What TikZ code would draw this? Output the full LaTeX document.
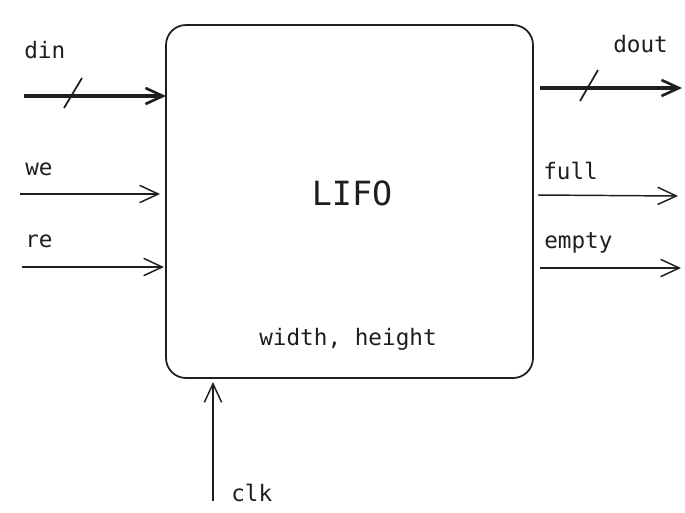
\documentclass[tikz,border=0pt]{standalone}
\usepackage{fontspec}
\setmonofont{DejaVu Sans Mono}
\usetikzlibrary{arrows.meta}
\definecolor{ink}{HTML}{1E1E1E}
\tikzset{
  sig/.style={draw=ink, line width=1.1pt, -{Straight Barb[length=14pt,width=13pt,line width=1.1pt]}},
  bus/.style={draw=ink, line width=2.3pt, -{Straight Barb[length=13pt,width=12pt,line width=2pt]}},
  slash/.style={draw=ink, line width=1.3pt},
  lbl/.style={font=\ttfamily\fontsize{17}{20}\selectfont, text=ink, inner sep=0pt},
  blk/.style={draw=ink, line width=1.3pt, rounded corners=15pt, inner sep=0pt,
    minimum width=275.25pt, minimum height=264.75pt}
}
\begin{document}
\begin{tikzpicture}[x=0.75pt,y=-0.75pt]
\useasboundingbox (0,0) rectangle (685,512);
\node[blk] (lifo) at (349.5,201.5) {};
\node[lbl, font=\ttfamily\fontsize{25}{30}\selectfont] (title) at (352,193) {LIFO};
\node[lbl] (param) at (348,339) {width, height};
% inputs
\coordinate (dinS) at (24,96); \coordinate (dinE) at (166,96);
\draw[bus] (dinS) -- (dinE);
\coordinate (dinA) at (64,108); \coordinate (dinB) at (82,78);
\draw[slash] (dinA) -- (dinB);
\node[lbl, anchor=west] (din) at (24,50) {din};
\coordinate (weS) at (20,194); \coordinate (weE) at (160,194);
\draw[sig] (weS) -- (weE);
\node[lbl, anchor=west] (we) at (25,169) {we};
\coordinate (reS) at (22,267); \coordinate (reE) at (164,267);
\draw[sig] (reS) -- (reE);
\node[lbl, anchor=west] (re) at (25,241) {re};
% outputs
\coordinate (doutS) at (540,88); \coordinate (doutE) at (682,88);
\draw[bus] (doutS) -- (doutE);
\coordinate (doutA) at (580,101); \coordinate (doutB) at (598,70);
\draw[slash] (doutA) -- (doutB);
\node[lbl, anchor=west] (dout) at (613,44) {dout};
\coordinate (fullS) at (538,195); \coordinate (fullE) at (678,196);
\draw[sig] (fullS) -- (fullE);
\node[lbl, anchor=west] (full) at (543,171) {full};
\coordinate (emptyS) at (540,268); \coordinate (emptyE) at (681,268);
\draw[sig] (emptyS) -- (emptyE);
\node[lbl, anchor=west] (empty) at (544,243) {empty};
% clock
\coordinate (clkS) at (213,501); \coordinate (clkE) at (213,382);
\draw[sig] (clkS) -- (clkE);
\node[lbl, anchor=west] (clk) at (231,493) {clk};
\end{tikzpicture}
\end{document}
